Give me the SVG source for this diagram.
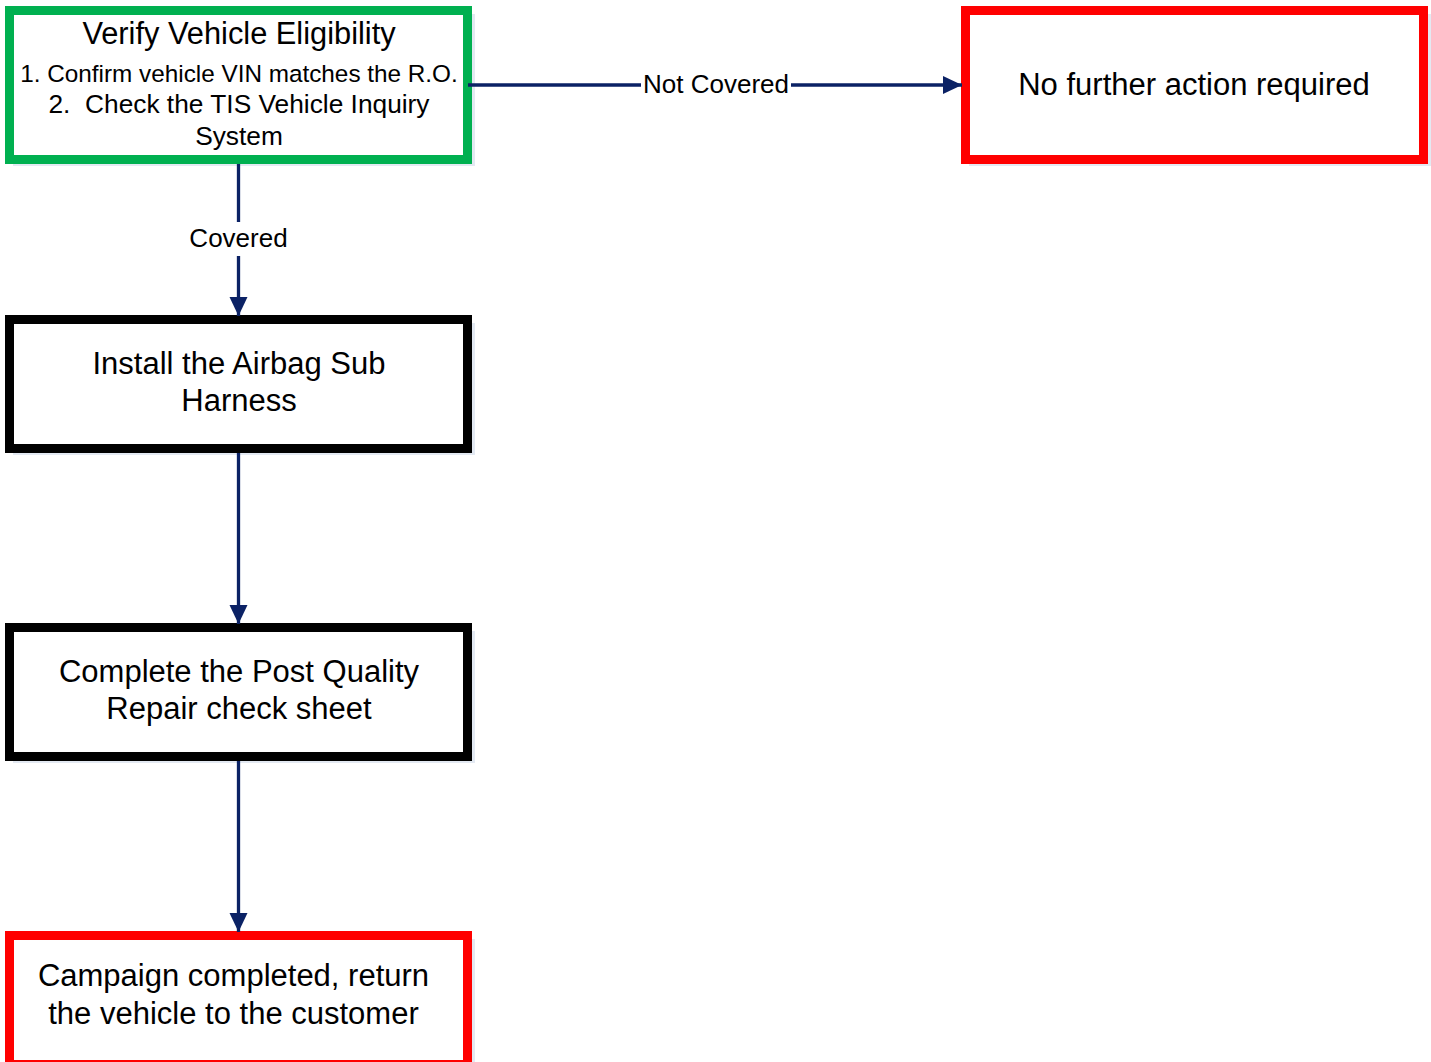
<svg xmlns="http://www.w3.org/2000/svg" width="1431" height="1062" viewBox="0 0 1431 1062">
<style>
.box{fill:#ffffff;stroke-width:9}
.shadow{fill:#e3e9f2}
.t{font-family:"Liberation Sans",Arial,sans-serif;fill:#000;text-anchor:middle}
.conn{stroke:#0b2265;stroke-width:3.3;fill:none}
.lbl{font-family:"Liberation Sans",Arial,sans-serif;font-size:26px;fill:#000;text-anchor:middle}
</style>
<defs>
<marker id="ah" markerUnits="userSpaceOnUse" markerWidth="20" markerHeight="20" refX="19" refY="9" orient="auto">
<path d="M0,0 L19,9 L0,18 z" fill="#0b2265"/>
</marker>
</defs>
<rect width="1431" height="1062" fill="#ffffff"/>

<g id="node-verify">
<rect class="shadow" x="13" y="14" width="462" height="152"/>
<rect class="box" x="9.5" y="10.5" width="458" height="149" stroke="#00b050"/>
<text class="t" x="239" y="44" font-size="30.8">Verify Vehicle Eligibility</text>
<text class="t" x="239" y="82" font-size="24.3">1. Confirm vehicle VIN matches the R.O.</text>
<text class="t" x="239" y="113" font-size="26.3" xml:space="preserve">2.  Check the TIS Vehicle Inquiry</text>
<text class="t" x="239" y="145" font-size="26.3">System</text>
</g>

<g id="node-nofurther">
<rect class="shadow" x="969" y="14" width="462" height="152"/>
<rect class="box" x="965.5" y="10.5" width="458" height="149" stroke="#ff0000"/>
<text class="t" x="1194" y="95" font-size="31">No further action required</text>
</g>

<g id="node-install">
<rect class="shadow" x="13" y="323" width="462" height="132"/>
<rect class="box" x="9.5" y="319.5" width="458" height="129" stroke="#000000"/>
<text class="t" x="239" y="374" font-size="31">Install the Airbag Sub</text>
<text class="t" x="239" y="411" font-size="31">Harness</text>
</g>

<g id="node-postquality">
<rect class="shadow" x="13" y="631" width="462" height="132"/>
<rect class="box" x="9.5" y="627.5" width="458" height="129" stroke="#000000"/>
<text class="t" x="239" y="682" font-size="31">Complete the Post Quality</text>
<text class="t" x="239" y="719" font-size="31">Repair check sheet</text>
</g>

<g id="node-complete">
<rect class="shadow" x="13" y="939" width="462" height="132"/>
<rect class="box" x="9.5" y="935.5" width="458" height="129" stroke="#ff0000"/>
<text class="t" x="233.5" y="986" font-size="31">Campaign completed, return</text>
<text class="t" x="233.5" y="1024" font-size="31">the vehicle to the customer</text>
</g>

<g id="connectors">
<line class="conn" x1="468" y1="85" x2="962" y2="85" marker-end="url(#ah)"/>
<rect x="641" y="70" width="150" height="30" fill="#ffffff"/>
<text class="lbl" x="716" y="93">Not Covered</text>

<line class="conn" x1="238.5" y1="164" x2="238.5" y2="316" marker-end="url(#ah)"/>
<rect x="186" y="222" width="105" height="34" fill="#ffffff"/>
<text class="lbl" x="238.5" y="247">Covered</text>

<line class="conn" x1="238.5" y1="453" x2="238.5" y2="624" marker-end="url(#ah)"/>
<line class="conn" x1="238.5" y1="761" x2="238.5" y2="932" marker-end="url(#ah)"/>
</g>
</svg>
